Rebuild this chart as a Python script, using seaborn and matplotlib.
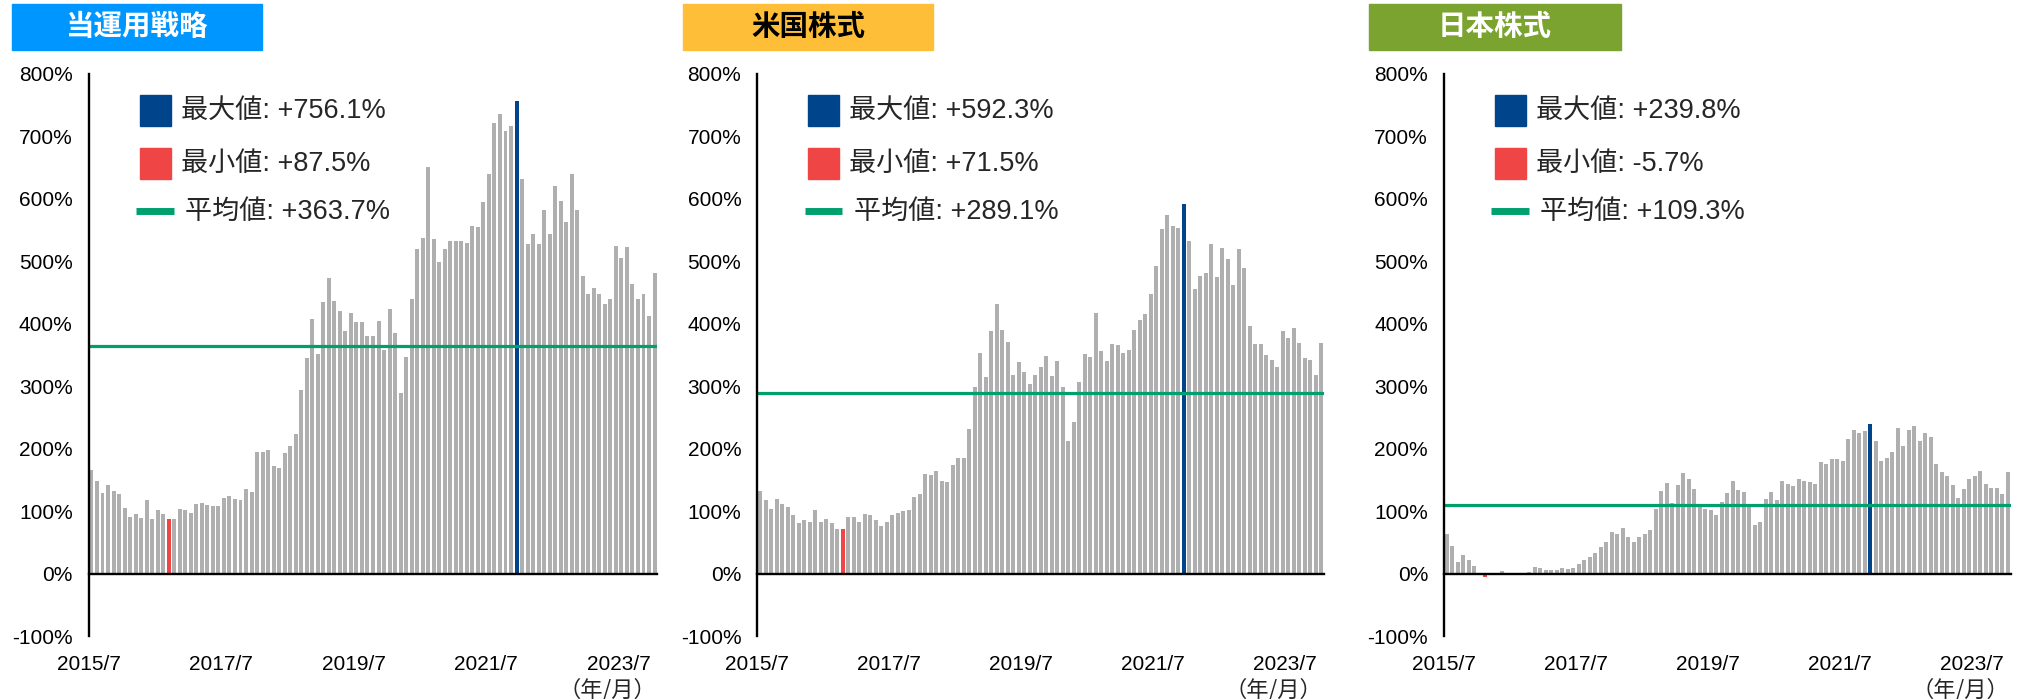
import numpy as np
import pandas as pd
import matplotlib
matplotlib.use("Agg")
import matplotlib.pyplot as plt
import seaborn as sns
from matplotlib.patches import Rectangle
from matplotlib.lines import Line2D

# monthly cumulative return (%), 2015/7 .. 2024/1
strategy = [
    166, 149, 129, 142, 133, 128, 105, 90, 95, 89, 117, 88, 101, 95, 87.5, 88,
    103, 102, 97, 112, 113, 110, 108, 108, 121, 124, 119, 117, 135, 131, 194, 194,
    198, 173, 169, 193, 205, 224, 294, 345, 407, 352, 435, 474, 437, 421, 388, 418,
    403, 403, 381, 380, 404, 358, 423, 386, 289, 347, 440, 519, 538, 651, 535, 499,
    519, 532, 532, 532, 530, 556, 555, 595, 640, 721, 736, 709, 717, 756.1, 632, 528,
    544, 528, 583, 544, 621, 597, 563, 640, 582, 477, 448, 457, 448, 432, 440, 524,
    505, 523, 464, 440, 447, 413, 481,
]
us_equity = [
    132, 117, 103, 120, 111, 106, 93, 81, 86, 82, 101, 83, 88, 81, 72, 71.5,
    91, 91, 83, 96, 94, 86, 76, 82, 94, 97, 100, 102, 123, 127, 160, 158,
    164, 148, 146, 174, 185, 185, 231, 298, 354, 315, 389, 432, 390, 371, 318, 339,
    323, 304, 318, 330, 348, 316, 341, 299, 213, 243, 307, 351, 346, 418, 357, 340,
    368, 366, 353, 358, 390, 406, 415, 448, 493, 552, 574, 557, 554, 592.3, 533, 455,
    477, 482, 528, 475, 521, 504, 462, 519, 490, 396, 368, 367, 350, 342, 330, 389,
    377, 393, 369, 345, 342, 318, 370,
]
jp_equity = [
    64, 44, 19, 29, 22, 12, 0.5, -5.7, -3, -2.5, 4, -1.5, 0.5, 0.3, 0.5, 3,
    11, 9, 6, 5, 6, 9, 7, 9, 15, 22, 26, 33, 43, 50, 67, 63,
    73, 59, 51, 59, 64, 70, 104, 133, 145, 113, 142, 161, 152, 136, 106, 104,
    102, 93, 115, 129, 148, 134, 131, 107, 78, 83, 120, 130, 118, 148, 143, 141,
    152, 148, 147, 143, 178, 176, 184, 184, 180, 216, 230, 225, 228, 239.8, 213, 181,
    185, 195, 233, 204, 230, 236, 212, 225, 219, 175, 163, 156, 142, 121, 135, 152,
    157, 164, 144, 137, 137, 128, 163,
]

titles = ["当運用戦略", "米国株式", "日本株式"]
means = [363.7, 289.1, 109.3]
tick_labels = ["2015/7", "2017/7", "2019/7", "2021/7", "2023/7"]

GRAY = "#AFAFAF"
BLUE = "#00448C"
RED = "#F04545"
GREEN = "#00A06E"
title_bg = ["#0096FF", "#FFBE37", "#7BA32F"]
title_fg = ["white", "black", "white"]

sns.set_style("white")
plt.rcParams["font.family"] = ["Liberation Sans", "Noto Sans CJK JP"]

W, H = 2035, 699
fig = plt.figure(figsize=(W / 100, H / 100), dpi=100)

# pixel layout of each panel: axis left, axis right, title box left/right
panels_px = [(88.7, 657.3, 12, 262), (757.3, 1323.8, 683, 933), (1444, 2010.5, 1369, 1621)]
AX_TOP, AX_BOT = 74, 636


def fig_rect(x0, y0, x1, y1):
    return [x0 / W, 1 - y1 / H, (x1 - x0) / W, (y1 - y0) / H]


for k, values in enumerate([strategy, us_equity, jp_equity]):
    axl, axr, bl, br = panels_px[k]
    ax = fig.add_axes(fig_rect(axl, AX_TOP, axr, AX_BOT))

    df = pd.DataFrame({"pos": np.arange(len(values)), "value": values})
    df["kind"] = "normal"
    i_max, i_min = int(np.argmax(values)), int(np.argmin(values))
    df.loc[i_max, "kind"] = "max"
    df.loc[i_min, "kind"] = "min"

    sns.barplot(data=df, x="pos", y="value", hue="kind",
                palette={"normal": GRAY, "max": BLUE, "min": RED},
                dodge=False, width=0.72, saturation=1, linewidth=0,
                legend=False, ax=ax)
    ax.axhline(means[k], color=GREEN, lw=2.3, zorder=3)

    n = len(values)
    ax.set_xlim(-0.5, n - 0.5)
    ax.set_ylim(-100, 800)
    ax.set_xticks([-0.5 + 24 * j for j in range(len(tick_labels))])
    ax.set_xticklabels(tick_labels)
    ax.set_yticks(range(-100, 801, 100))
    ax.set_yticklabels([f"{v}%" for v in range(-100, 801, 100)])
    ax.set_xlabel("")
    ax.set_ylabel("")

    for s in ["top", "right"]:
        ax.spines[s].set_visible(False)
    ax.spines["bottom"].set_position(("data", 0))
    for s in ["left", "bottom"]:
        ax.spines[s].set_linewidth(1.7)
        ax.spines[s].set_color("black")
        ax.spines[s].set_zorder(4)
    ax.tick_params(axis="y", direction="out", length=4.5, width=1.7, pad=7,
                   colors="black", labelsize=15)
    ax.tick_params(axis="x", direction="out", length=4, width=1.7, pad=55,
                   colors="black", labelsize=15)
    ax.patch.set_alpha(0)

    ax.text(0.998, -0.095, "（年/月）", transform=ax.transAxes, ha="right", va="center",
            fontsize=16, family=["Noto Sans CJK JP"])

    # legend-like annotations
    ax.add_patch(Rectangle((0.090, 0.907), 0.055, 0.055, transform=ax.transAxes,
                           color=BLUE, clip_on=False, zorder=5))
    ax.add_patch(Rectangle((0.090, 0.813), 0.055, 0.055, transform=ax.transAxes,
                           color=RED, clip_on=False, zorder=5))
    ax.add_line(Line2D([0.0835, 0.150], [0.757, 0.757], transform=ax.transAxes,
                       color=GREEN, lw=5, solid_capstyle="butt", zorder=5))
    ax.text(0.162, 0.935, f"最大値: {values[i_max]:+.1f}%", transform=ax.transAxes,
            fontsize=19.5, va="center", ha="left")
    ax.text(0.162, 0.840, f"最小値: {values[i_min]:+.1f}%", transform=ax.transAxes,
            fontsize=19.5, va="center", ha="left")
    ax.text(0.170, 0.755, f"平均値: {means[k]:+.1f}%", transform=ax.transAxes,
            fontsize=19.5, va="center", ha="left")

    # coloured title box
    fig.add_artist(Rectangle((bl / W, 1 - 50 / H), (br - bl) / W, 46 / H,
                             transform=fig.transFigure, color=title_bg[k], zorder=0))
    fig.text((bl + br) / 2 / W, 1 - 27 / H, titles[k], ha="center", va="center",
             fontsize=20.5, weight="bold", color=title_fg[k], family=["Noto Sans CJK JP"])

fig.savefig("out.png", dpi=100)
